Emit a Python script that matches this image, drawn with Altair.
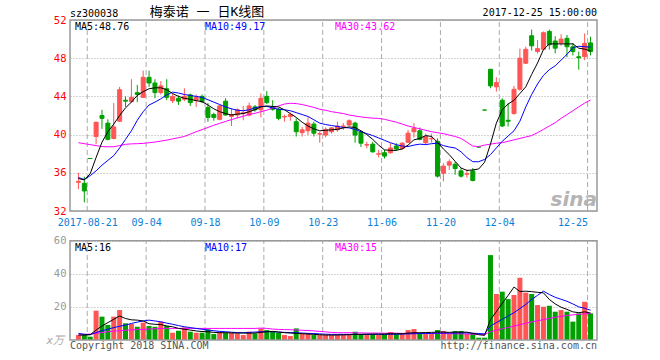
import altair as alt
import pandas as pd

# ---------------- data ----------------
opens = [35.0, 34.9, 37.5, 39.8, 42.0, 41.2, 39.6, 41.4, 43.6, 43.45,
         44.4, 43.9, 46.0, 45.4, 44.4, 44.8, 43.55, 43.8, 43.7, 44.15,
         43.6, 44.0, 42.85, 42.1, 41.6, 43.5, 41.9, 42.05, 42.2, 42.05,
         42.9, 42.6, 44.0, 42.9, 42.65, 41.85, 41.9, 41.35, 40.2, 40.4,
         41.1, 40.05, 39.95, 40.3, 40.5, 40.85, 41.0, 41.2, 40.3, 38.9,
         39.0, 37.95, 38.1, 38.1, 38.8, 38.55, 39.2, 40.3, 40.4, 39.15,
         39.55, 39.3, 35.95, 36.8, 36.9, 36.2, 35.85, 36.2, 38.7, 42.57,
         46.84, 45.0, 43.6, 41.5, 42.2, 44.75, 47.47, 50.35, 48.7, 48.93,
         50.8, 49.8, 49.6, 50.08, 49.2, 48.15, 48.16, 49.6]
highs = [36.0, 35.6, 37.5, 41.3, 42.6, 41.6, 43.3, 45.0, 44.0, 45.8,
         45.2, 46.7, 46.7, 45.8, 45.6, 45.8, 44.3, 44.1, 44.85, 44.3,
         44.2, 44.2, 43.3, 42.3, 43.1, 43.8, 42.75, 42.75, 43.0, 43.35,
         43.1, 44.3, 44.55, 43.6, 42.8, 42.1, 42.3, 41.7, 40.8, 41.8,
         41.35, 40.3, 40.75, 40.8, 41.35, 41.2, 41.6, 41.35, 40.4, 39.25,
         39.25, 38.4, 38.4, 39.1, 39.1, 39.2, 40.5, 41.2, 40.75, 40.1,
         40.1, 39.6, 37.0, 37.4, 37.15, 36.5, 36.35, 36.5, 38.7, 42.57,
         46.84, 46.0, 43.8, 43.3, 45.1, 49.0, 49.2, 51.0, 49.9, 50.8,
         51.0, 50.3, 50.5, 50.43, 49.6, 48.7, 50.6, 50.25]
lows = [34.3, 32.9, 37.5, 39.0, 40.6, 39.4, 39.5, 41.3, 42.9, 43.3,
        43.4, 43.9, 45.0, 43.8, 44.2, 43.6, 43.3, 43.1, 43.5, 43.0,
        42.9, 43.3, 41.35, 41.45, 41.5, 42.0, 40.9, 41.7, 41.5, 41.9,
        42.4, 41.8, 43.2, 42.5, 41.5, 41.35, 41.45, 39.8, 39.8, 39.95,
        39.8, 39.15, 39.7, 40.1, 40.3, 40.5, 40.9, 39.15, 38.7, 38.55,
        38.1, 37.6, 37.5, 38.0, 38.3, 38.4, 39.1, 39.7, 39.4, 39.0,
        39.15, 35.5, 35.1, 36.3, 35.8, 35.5, 35.5, 35.1, 38.7, 42.57,
        44.85, 44.5, 40.8, 40.85, 42.1, 44.6, 47.4, 48.8, 48.5, 48.9,
        48.9, 48.5, 49.3, 48.1, 48.3, 46.8, 47.8, 48.3]
closes = [35.1, 34.1, 37.5, 41.3, 41.7, 39.5, 40.8, 44.7, 43.5, 43.9,
          44.2, 46.0, 45.4, 44.4, 45.1, 43.9, 44.0, 43.5, 44.0, 43.35,
          43.9, 43.45, 41.8, 41.8, 43.0, 42.05, 42.1, 42.6, 42.3, 43.0,
          42.6, 43.8, 43.35, 42.65, 41.7, 41.9, 42.1, 40.3, 40.5, 41.2,
          40.15, 40.1, 40.55, 40.7, 40.9, 40.9, 41.45, 39.95, 39.1, 38.95,
          38.2, 38.0, 37.75, 38.6, 38.5, 39.1, 40.15, 40.65, 39.5, 39.8,
          39.6, 35.65, 36.7, 37.15, 36.45, 35.65, 35.9, 35.2, 38.7, 42.57,
          45.1, 45.45, 40.9, 41.4, 44.74, 48.0, 48.93, 49.3, 49.0, 50.67,
          49.4, 49.05, 50.0, 49.2, 48.7, 48.05, 49.55, 48.7]
volumes = [3.0, 3.6, 2.0, 17.7, 14.1, 9.1, 14.1, 18.1, 10.1, 9.7,
           8.0, 10.5, 8.5, 8.0, 11.1, 8.5, 4.4, 5.6, 7.6, 5.0,
           4.4, 4.4, 6.4, 3.6, 5.0, 4.4, 4.4, 4.0, 3.0, 5.0,
           4.0, 7.0, 6.0, 5.0, 4.4, 3.0, 2.4, 7.0, 3.6, 4.0,
           3.0, 3.0, 3.0, 3.0, 3.0, 3.0, 3.0, 5.0, 3.6, 3.0,
           3.6, 3.0, 3.6, 4.8, 3.6, 3.6, 6.0, 6.6, 4.0, 3.6,
           3.6, 6.0, 5.4, 3.6, 5.4, 5.4, 3.6, 3.6, 1.4, 1.4,
           51.3, 27.8, 29.2, 24.7, 27.2, 37.6, 28.6, 27.8, 21.1, 20.1,
           20.7, 17.1, 18.1, 17.1, 11.1, 16.1, 23.1, 16.1]
ma5 = [35.4, 35.25, 35.9, 37.6, 39.2, 40.3, 41.1, 42.0, 42.8, 43.4,
       44.1, 44.5, 44.8, 44.9, 44.9, 44.7, 44.3, 44.0, 43.8, 43.7,
       43.55, 43.45, 43.1, 42.7, 42.4, 42.2, 42.05, 42.15, 42.2, 42.4,
       42.6, 42.9, 43.0, 42.95, 42.9, 42.6, 42.2, 41.8, 41.3, 40.9,
       40.6, 40.4, 40.45, 40.5, 40.55, 40.7, 40.8, 40.75, 40.4, 40.0,
       39.5, 38.9, 38.4, 38.35, 38.35, 38.5, 38.9, 39.45, 39.6, 39.9,
       39.8, 39.2, 38.5, 37.9, 37.2, 36.5, 36.25, 36.3, 36.4, 37.1,
       39.0, 41.2, 42.6, 43.2, 43.6, 44.3, 45.0, 46.3, 47.5, 48.9,
       49.5, 49.5, 49.5, 49.5, 49.5, 49.05, 48.95, 48.76]
ma10 = [35.5, 35.3, 35.7, 36.2, 36.8, 37.3, 37.8, 38.6, 39.5, 40.4,
        41.5, 42.4, 43.1, 43.4, 43.75, 44.15, 44.45, 44.35, 44.2, 44.1,
        44.0, 43.9, 43.65, 43.4, 43.15, 42.9, 42.7, 42.55, 42.5, 42.6,
        42.8, 42.95, 42.95, 42.8, 42.65, 42.6, 42.5, 42.3, 42.1, 41.9,
        41.55, 41.2, 41.05, 40.95, 40.85, 40.75, 40.7, 40.55, 40.3, 40.1,
        39.9, 39.65, 39.4, 39.15, 38.95, 38.8, 38.75, 38.9, 39.0, 38.95,
        39.05, 39.1, 38.85, 38.7, 38.6, 38.2, 37.6, 37.16, 37.16, 37.4,
        37.9, 38.6, 39.3, 39.85, 40.4, 41.4, 42.9, 44.2, 45.3, 46.2,
        46.8, 47.2, 47.8, 48.4, 49.1, 49.25, 49.2, 49.17]
ma30 = [39.15, 39.05, 38.95, 38.85, 38.75, 38.72, 38.73, 38.85, 38.98, 39.03,
        39.05, 39.08, 39.15, 39.22, 39.32, 39.42, 39.55, 39.68, 39.8, 40.05,
        40.3, 40.52, 40.75, 40.98, 41.18, 41.38, 41.57, 41.75, 41.92, 42.1,
        42.23, 42.4, 42.55, 42.8, 43.0, 43.2, 43.28, 43.25, 43.15, 43.0,
        42.85, 42.65, 42.55, 42.4, 42.3, 42.2, 42.05, 41.95, 41.85, 41.78,
        41.72, 41.7, 41.6, 41.45, 41.3, 41.1, 40.9, 40.75, 40.6, 40.45,
        40.3, 40.2, 40.1, 39.95, 39.8, 39.6, 39.2, 38.8, 38.75, 38.9,
        39.0, 39.1, 39.15, 39.3, 39.45, 39.6, 39.75, 39.9, 40.2, 40.55,
        40.9, 41.25, 41.7, 42.1, 42.5, 42.9, 43.3, 43.62]
vma5 = [3.0, 3.0, 3.2, 6.0, 8.5, 10.5, 12.5, 14.5, 13.0, 12.2,
        12.0, 11.5, 9.8, 9.5, 9.3, 8.5, 8.0, 7.0, 6.5, 6.0,
        5.5, 5.1, 5.0, 4.6, 4.4, 4.4, 4.3, 4.2, 4.2, 4.1,
        4.2, 4.6, 5.0, 5.2, 4.8, 4.4, 4.2, 4.0, 3.8, 3.6,
        3.4, 3.2, 3.0, 3.0, 3.0, 3.1, 3.2, 3.4, 3.4, 3.5,
        3.6, 3.6, 3.6, 3.8, 3.8, 3.8, 4.2, 4.4, 4.4, 4.5,
        4.6, 4.8, 4.8, 4.6, 4.8, 4.8, 4.7, 4.0, 3.2, 2.8,
        12.3, 17.1, 22.2, 26.9, 32.0, 29.3, 29.5, 29.2, 28.8, 28.5,
        24.5, 21.8, 19.8, 18.5, 17.0, 16.5, 17.0, 16.3]
vma10 = [4.0, 3.5, 3.2, 4.5, 5.6, 6.5, 7.5, 8.3, 9.0, 10.0,
         10.8, 11.5, 12.0, 11.5, 11.0, 10.2, 9.5, 8.7, 8.0, 7.5,
         7.0, 6.5, 6.0, 5.6, 5.2, 5.0, 4.7, 4.5, 4.4, 4.6,
         4.8, 5.0, 5.0, 5.0, 4.8, 4.6, 4.5, 4.4, 4.2, 4.0,
         3.9, 3.7, 3.5, 3.4, 3.4, 3.4, 3.4, 3.4, 3.4, 3.4,
         3.4, 3.4, 3.4, 3.5, 3.5, 3.6, 3.7, 3.8, 3.9, 4.0,
         4.0, 4.1, 4.2, 4.2, 4.2, 4.3, 4.3, 4.1, 3.9, 3.7,
         8.5, 10.5, 12.5, 14.5, 16.5, 19.0, 21.5, 24.5, 27.0, 29.5,
         27.5, 25.8, 24.6, 23.4, 21.8, 20.0, 19.2, 18.0]
vma30 = [3.0, 3.3, 3.6, 4.0, 4.5, 5.0, 5.3, 5.6, 5.9, 6.1,
         6.3, 6.4, 6.6, 6.8, 7.0, 7.0, 7.0, 7.0, 7.0, 7.0,
         7.0, 7.0, 7.0, 7.0, 7.0, 7.0, 7.0, 7.0, 7.0, 7.0,
         7.0, 7.2, 7.0, 6.6, 6.4, 6.3, 6.2, 6.0, 5.9, 5.7,
         5.5, 5.2, 4.9, 4.6, 4.4, 4.4, 4.4, 4.3, 4.3, 4.2,
         4.2, 4.2, 4.1, 4.1, 4.1, 4.0, 4.0, 4.0, 4.0, 4.0,
         3.9, 3.9, 3.9, 3.8, 3.8, 3.7, 3.6, 3.5, 3.4, 3.3,
         5.0, 5.9, 6.8, 7.6, 8.4, 9.3, 10.1, 10.9, 11.6, 12.3,
         13.0, 13.7, 14.3, 14.8, 15.2, 15.5, 15.8, 16.1]

grid_idx = [1.5, 11.5, 21.5, 31.5, 41.5, 51.5, 61.5, 71.5, 86.5]
grid_labels = ["2017-08-21", "09-04", "09-18", "10-09", "10-23",
               "11-06", "11-20", "12-04", "12-25"]
price_ticks = [32, 36, 40, 44, 48, 52]
vol_ticks = [20, 40, 60]

# ---------------- styling ----------------
W, H = 527, 320
MONO = "DejaVu Sans Mono"
CJK = "'DejaVu Sans Mono', 'Noto Sans CJK SC'"
RED, GREEN = "#ff5555", "#00a000"
BLUE, MAGENTA = "#0000ff", "#ff00ff"
FRAME = "#999999"

df = pd.DataFrame({
    "idx": list(range(len(opens))), "open": opens, "high": highs, "low": lows,
    "close": closes, "volume": volumes, "ma5": ma5, "ma10": ma10, "ma30": ma30,
    "vma5": vma5, "vma10": vma10, "vma30": vma30,
})
df["dir"] = ["up" if c > o else "down" for o, c in zip(opens, closes)]
gdf = pd.DataFrame({"gx": grid_idx})
one = alt.Data(values=[{}])

xscale = alt.Scale(domain=[-0.5833, 87.25], nice=False, zero=False)
label_expr = ("[" + ",".join(f"'{l}'" for l in grid_labels) + "][indexof(["
              + ",".join(str(g) for g in grid_idx) + "], datum.value)]")
x_axis = alt.Axis(values=grid_idx, labelExpr=label_expr, orient="bottom", offset=-129,
                  domain=False, ticks=False, grid=False, labelColor="#0a7fd6",
                  labelFont=MONO, labelFontSize=10, labelPadding=6, labelFlush=False,
                  labelOverlap=False, title=None,
                  labelAlign={"condition": {"test": "datum.value > 80", "value": "right"},
                              "value": "center"})
pscale = alt.Scale(domain=[32, 52], range=[191, 0], nice=False, zero=False)
p_axis = alt.Axis(values=price_ticks, orient="left", domain=False, ticks=False,
                  labelPadding=4, labelColor="#ff0000", labelFont=MONO, labelFontSize=10.5,
                  grid=True, gridColor="#aaaaaa", gridDash=[1, 2], title=None,
                  labelFlush=False)
vscale = alt.Scale(domain=[0, 60], range=[320, 220.7], nice=False)
v_axis = alt.Axis(values=vol_ticks, orient="left", domain=False, ticks=False,
                  labelPadding=4, labelColor="#999999", labelFont=MONO, labelFontSize=10.5,
                  grid=True, gridColor="#aaaaaa", gridDash=[1, 2], title=None,
                  labelFlush=False)
cscale = alt.Scale(domain=["up", "down"], range=[RED, GREEN])
X = alt.X("idx:Q", scale=xscale, axis=x_axis)
COLOR = alt.Color("dir:N", scale=cscale, legend=None)


def text(txt, x, y, color, align="left", size=10, font=MONO, style="normal", weight="normal"):
    return alt.Chart(one).mark_text(align=align, baseline="alphabetic", font=font,
                                    fontSize=size, color=color, fontStyle=style,
                                    fontWeight=weight).encode(
        x=alt.value(x), y=alt.value(y), text=alt.value(txt))


# ---------------- price panel ----------------
vgrid_p = alt.Chart(gdf).mark_rule(color="#aaaaaa", strokeDash=[5, 3], strokeWidth=1).encode(
    x=alt.X("gx:Q", scale=xscale, axis=x_axis),
    y=alt.YDatum(32, scale=pscale, axis=p_axis), y2=alt.Y2Datum(52))
wicks = alt.Chart(df).mark_rule(strokeWidth=1).encode(
    x=X, y=alt.Y("low:Q", scale=pscale, axis=p_axis), y2="high:Q", color=COLOR)
bodies = alt.Chart(df).mark_bar(size=4, strokeWidth=1).encode(
    x=X, y=alt.Y("open:Q", scale=pscale, axis=p_axis), y2="close:Q", color=COLOR,
    stroke=alt.Stroke("dir:N", scale=cscale, legend=None))


def pline(field, color):
    return alt.Chart(df).mark_line(strokeWidth=1, color=color).encode(
        x=X, y=alt.Y(f"{field}:Q", scale=pscale, axis=p_axis))


frame_p = alt.Chart(one).mark_rect(filled=False, stroke=FRAME, strokeWidth=1.5).encode(
    x=alt.value(0), x2=alt.value(W),
    y=alt.YDatum(52, scale=pscale, axis=p_axis), y2=alt.Y2Datum(32))

main = alt.layer(
    vgrid_p, wicks, bodies, pline("ma30", MAGENTA), pline("ma10", BLUE), pline("ma5", "#000000"),
    frame_p,
    text("sina", 527, 186, "#b4b4b4", align="right", size=20, font="DejaVu Sans",
         style="italic", weight="bold"),
    text("sz300038", 0, -3.5, "#000000"),
    text("梅泰诺 一 日K线图", 137, -4.5, "#000000", align="center", size=13, font=CJK),
    text("2017-12-25 15:00:00", 527, -4, "#000000", align="right"),
    text("MA5:48.76", 5, 10, "#000000"),
    text("MA10:49.17", 135, 10, BLUE),
    text("MA30:43.62", 265, 10, MAGENTA),
)

# ---------------- volume panel ----------------
vgrid_v = alt.Chart(gdf).mark_rule(color="#aaaaaa", strokeDash=[5, 3], strokeWidth=1).encode(
    x=alt.X("gx:Q", scale=xscale, axis=x_axis),
    y=alt.YDatum(0, scale=vscale, axis=v_axis), y2=alt.Y2Datum(60))
vbars = alt.Chart(df).mark_bar(size=5).encode(
    x=X, y=alt.Y("volume:Q", scale=vscale, axis=v_axis), color=COLOR)


def vline(field, color):
    return alt.Chart(df).mark_line(strokeWidth=1, color=color).encode(
        x=X, y=alt.Y(f"{field}:Q", scale=vscale, axis=v_axis))


frame_v = alt.Chart(one).mark_rect(filled=False, stroke=FRAME, strokeWidth=1.5).encode(
    x=alt.value(0), x2=alt.value(W),
    y=alt.YDatum(60, scale=vscale, axis=v_axis), y2=alt.Y2Datum(0))

vol = alt.layer(
    vgrid_v, vbars, vline("vma30", MAGENTA), vline("vma10", BLUE), vline("vma5", "#000000"),
    frame_v,
    text("MA5:16", 5, 230.5, "#000000"),
    text("MA10:17", 135, 230.5, BLUE),
    text("MA30:15", 265, 230.5, MAGENTA),
    text("x万", -6, 323.5, "#aaaaaa", align="right", size=11, font=CJK, style="italic"),
    text("Copyright 2018 SINA.COM", 0, 328.5, "#555555"),
    text("http://finance.sina.com.cn", 527, 328.5, "#555555", align="right"),
)

chart = alt.layer(main, vol).resolve_scale(y="independent").properties(
    width=W, height=H,
    padding={"left": 70, "top": 20, "right": 63, "bottom": 20},
    autosize=alt.AutoSizeParams(type="none"),
    background="white",
).configure_view(stroke=None)

chart.save("out.html", embed_options={"renderer": "svg", "actions": False})
